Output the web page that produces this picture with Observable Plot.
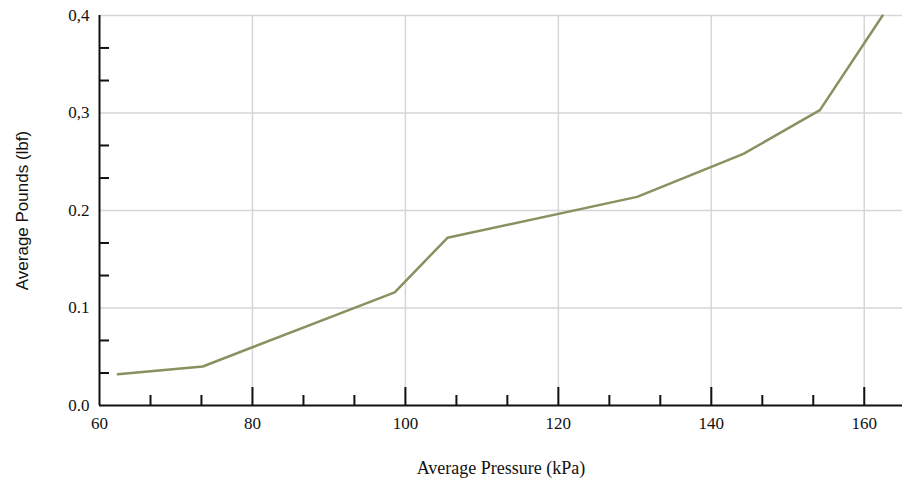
<!DOCTYPE html>
<html>
<head>
<meta charset="utf-8">
<script src="https://cdn.jsdelivr.net/npm/d3@7"></script>
<script src="https://cdn.jsdelivr.net/npm/@observablehq/plot@0.6"></script>
<style>
  html, body { margin: 0; padding: 0; background: #fff; }
</style>
</head>
<body>
<div id="chart"></div>
<script>
// Data
const pressure = [62.4, 73.5, 98.6, 105.5, 130.3, 144.2, 154.2, 162.4];
const pounds   = [0.032, 0.040, 0.116, 0.172, 0.214, 0.258, 0.303, 0.400];

// Axis ticks
const xMajor = [80, 100, 120, 140, 160];
const xLabels = [60, 80, 100, 120, 140, 160];
const xMinor = [66.67, 73.33, 86.67, 93.33, 106.67, 113.33, 126.67, 133.33, 146.67, 153.33];
const yGrid = [0.1, 0.2, 0.3, 0.4];
const yLabelValues = [0.0, 0.1, 0.2, 0.3, 0.4];
const yLabelTexts = ["0.0", "0.1", "0.2", "0,3", "0,4"];
const yMinor = [0.0333, 0.0667, 0.1333, 0.1667, 0.2333, 0.2667, 0.3333, 0.3667];

const xTitle = "Average Pressure (kPa)";
const yTitle = "Average Pounds (lbf)";

const serif = "Liberation Serif, DejaVu Serif, serif";
const sans = "Liberation Sans, Arial, sans-serif";

const data = pressure.map((p, i) => ({p, f: pounds[i]}));

const chart = Plot.plot({
  width: 907,
  height: 481,
  marginLeft: 99,
  marginRight: 5,
  marginTop: 15,
  marginBottom: 76,
  style: {fontFamily: serif, fontSize: "17px", color: "#111", background: "#fff"},
  x: {domain: [60, 165]},
  y: {domain: [0, 0.4]},
  marks: [
    Plot.ruleX(xMajor, {stroke: "#d6d6d6", strokeWidth: 1.5}),
    Plot.ruleY(yGrid, {stroke: "#d6d6d6", strokeWidth: 1.5}),
    Plot.line(data, {x: "p", y: "f", stroke: "#8a9060", strokeWidth: 2.5}),
    Plot.ruleX([60], {stroke: "#111", strokeWidth: 2}),
    Plot.ruleY([0], {stroke: "#111", strokeWidth: 2}),
    Plot.axisX(xMajor, {tickSize: -18, text: null, label: null, stroke: "#111", strokeWidth: 2}),
    Plot.axisX(xMinor, {tickSize: -10, text: null, label: null, stroke: "#111", strokeWidth: 2}),
    Plot.axisX(xLabels, {tickSize: 0, tickPadding: 11, label: null, fontSize: 17, fill: "#111", fontFamily: serif}),
    Plot.axisY(yMinor, {tickSize: -10, text: null, label: null, stroke: "#111", strokeWidth: 2}),
    Plot.axisY(yLabelValues, {tickSize: 0, tickPadding: 10, label: null, fontSize: 17, fill: "#111", fontFamily: serif,
      tickFormat: (d) => yLabelTexts[yLabelValues.indexOf(d)]}),
    Plot.text([xTitle], {text: d => d, frameAnchor: "bottom", dy: 63, textAnchor: "middle", lineAnchor: "middle",
      fontSize: 18, fill: "#111", fontFamily: serif}),
    Plot.text([yTitle], {text: d => d, frameAnchor: "left", dx: -77, rotate: -90, textAnchor: "middle", lineAnchor: "middle",
      fontSize: 17, fill: "#111", fontFamily: sans})
  ]
});
document.getElementById("chart").appendChild(chart);
</script>
</body>
</html>
